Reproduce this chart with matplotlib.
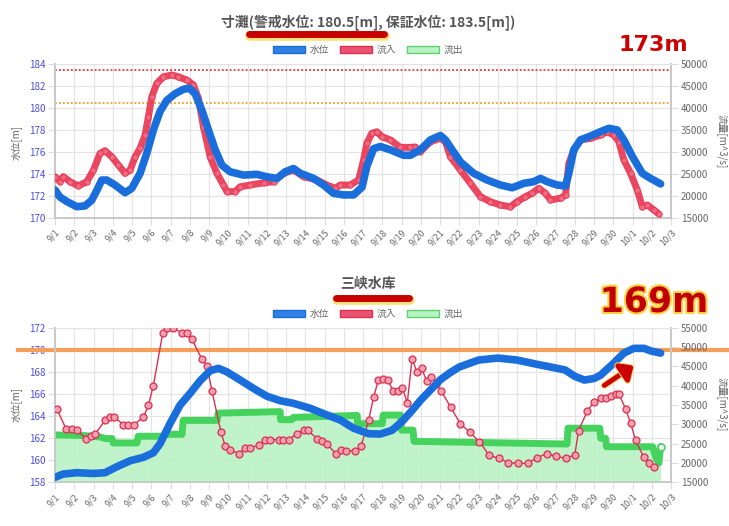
import numpy as np
import matplotlib
matplotlib.use('Agg')
import matplotlib.pyplot as plt
from matplotlib.patches import Patch, FancyArrowPatch
from matplotlib.lines import Line2D
import matplotlib.patheffects as pe

plt.rcParams['font.family'] = ['Noto Sans CJK JP', 'DejaVu Sans']

# ---------------- data ----------------
date_labels = ["9/1", "9/2", "9/3", "9/4", "9/5", "9/6", "9/7", "9/8", "9/9", "9/10",
               "9/11", "9/12", "9/13", "9/14", "9/15", "9/16", "9/17", "9/18", "9/19", "9/20",
               "9/21", "9/22", "9/23", "9/24", "9/25", "9/26", "9/27", "9/28", "9/29", "9/30",
               "10/1", "10/2", "10/3"]

# 寸灘 water level [m] (days after 9/1)
top_level_day = [0, 0.26, 0.61, 1.13, 1.56, 1.9, 2.17, 2.43, 2.69, 3.12, 3.64, 3.99, 4.42, 4.77, 5.11,
                 5.46, 5.81, 6.24, 6.67, 6.98, 7.28, 7.63, 7.97, 8.32, 8.67, 9.1, 9.79, 10.49, 11.0, 11.53,
                 11.96, 12.39, 12.74, 13.43, 13.95, 14.47, 14.99, 15.51, 15.95, 16.2, 16.55, 16.9, 17.42,
                 18.11, 18.46, 18.98, 19.5, 20.02, 20.28, 20.63, 21.06, 21.75, 22.45, 23.14, 23.75, 24.35,
                 24.87, 25.22, 25.57, 26.09, 26.52, 26.69, 26.95, 27.3, 27.82, 28.34, 28.77, 29.21, 29.55,
                 29.99, 30.51, 30.94, 31.46]
top_level = [172.55, 171.9, 171.5, 171.03, 171.1, 171.6, 172.5, 173.45, 173.45, 173.0, 172.3, 172.7, 174.06,
             175.9, 178.0, 179.7, 180.7, 181.3, 181.7, 181.8, 181.3, 179.8, 178.0, 176.2, 174.8, 174.2, 173.9,
             173.97, 173.75, 173.6, 174.2, 174.5, 174.06, 173.6, 173.0, 172.24, 172.1, 172.1, 172.8, 174.7,
             176.3, 176.5, 176.2, 175.7, 175.7, 176.2, 177.1, 177.5, 177.1, 176.2, 175.1, 174.06, 173.45, 173.0,
             172.75, 173.15, 173.3, 173.6, 173.3, 173.0, 172.9, 174.06, 176.2, 177.1, 177.45, 177.85, 178.15,
             178.0, 177.1, 175.6, 174.06, 173.6, 173.1]

# 寸灘 inflow [m^3/s]
top_in_day = [0, 0.26, 0.43, 0.78, 1.21, 1.65, 2.0, 2.34, 2.6, 2.95, 3.29, 3.64, 3.9, 4.16, 4.42, 4.68, 4.85,
              5.03, 5.29, 5.63, 6.07, 6.41, 6.85, 7.19, 7.45, 7.71, 8.06, 8.41, 8.75, 8.93, 9.36, 9.62, 10.14,
              10.84, 11.36, 11.88, 12.39, 12.91, 13.61, 14.12, 14.56, 14.82, 15.34, 15.77, 16.03, 16.2, 16.46,
              16.72, 16.98, 17.42, 17.94, 18.46, 18.72, 18.98, 19.5, 20.02, 20.28, 20.54, 21.06, 21.58, 22.1,
              22.62, 23.14, 23.66, 24.0, 24.44, 24.78, 25.13, 25.48, 25.74, 26.26, 26.52, 26.69, 26.95, 27.3,
              27.82, 28.34, 28.68, 29.03, 29.29, 29.55, 29.9, 30.25, 30.51, 30.77, 31.12, 31.37]
top_in = [24400, 23250, 24400, 23250, 22300, 23250, 25900, 29700, 30300, 28900, 27050, 25150, 25900, 28900,
          30850, 33850, 38000, 42550, 45600, 47100, 47500, 47100, 46350, 45250, 42200, 35750, 28900, 25150,
          22500, 21000, 21000, 22100, 22500, 23000, 23250, 25150, 25900, 24400, 23650, 22500, 21750, 22500,
          22500, 23650, 28200, 32000, 34250, 34600, 33500, 32750, 31050, 31050, 31150, 30050, 32350, 33100,
          32350, 28900, 25900, 22900, 19850, 18700, 17950, 17550, 18700, 19850, 20600, 21750, 20600, 19100,
          19500, 20250, 27400, 30450, 32750, 33100, 33850, 34600, 33850, 32350, 28200, 25150, 21350, 17550,
          17950, 16800, 15900]

warning_level = 180.5
guarantee_level = 183.5

# 三峡水库 water level [m]
b_level_day = [0, 0.43, 1.13, 1.99, 2.6, 3.2, 3.9, 4.59, 5.11, 5.46, 5.98, 6.5, 7.02, 7.54, 8.06, 8.49, 8.93,
               9.62, 10.31, 11.0, 11.7, 12.39, 13.26, 14.12, 14.82, 15.51, 16.29, 16.9, 17.5, 18.0, 18.5, 19.0,
               19.5, 20.0, 20.5, 21.0, 22.0, 23.0, 24.0, 25.0, 26.0, 26.5, 27.0, 27.5, 28.0, 28.34, 29.03,
               29.55, 30.07, 30.6, 30.94, 31.46]
b_level = [158.45, 158.75, 158.87, 158.8, 158.87, 159.4, 159.95, 160.26, 160.68, 161.5, 163.34, 165.0, 166.06,
           167.2, 168.1, 168.32, 168.0, 167.26, 166.5, 165.8, 165.39, 165.15, 164.7, 164.1, 163.64, 162.9,
           162.4, 162.37, 162.7, 163.45, 164.4, 165.45, 166.35, 167.26, 167.9, 168.44, 169.07, 169.25, 169.07,
           168.7, 168.35, 168.17, 167.6, 167.26, 167.4, 167.7, 168.8, 169.7, 170.13, 170.13, 169.9, 169.7]

# 三峡水库 inflow [m^3/s]
b_in_day = [0.09, 0.57, 0.87, 1.13, 1.61, 1.86, 2.08, 2.6, 2.86, 3.08, 3.55, 3.81, 4.11, 4.59, 4.85, 5.11,
            5.6, 5.84, 6.12, 6.59, 6.85, 7.11, 7.63, 7.89, 8.15, 8.62, 8.84, 9.1, 9.58, 9.88, 10.14, 10.62,
            10.92, 11.18, 11.66, 11.87, 12.13, 12.57, 12.91, 13.12, 13.61, 13.87, 14.13, 14.61, 14.86, 15.13,
            15.6, 15.9, 16.29, 16.55, 16.8, 17.05, 17.3, 17.55, 17.8, 18.05, 18.3, 18.55, 18.8, 19.05, 19.3,
            19.55, 19.8, 20.05, 20.55, 21.05, 21.55, 22.05, 22.55, 23.05, 23.55, 24.05, 24.55, 25.05, 25.55,
            26.05, 26.55, 27.0, 27.2, 27.66, 27.98, 28.34, 28.6, 28.86, 29.12, 29.29, 29.64, 29.9, 30.16,
            30.59, 30.85, 31.11]
b_in = [34030, 28890, 28890, 28450, 26320, 26910, 27420, 31020, 31870, 31870, 29920, 29920, 29920, 31870,
        34880, 40020, 53720, 54850, 54850, 53720, 53720, 52020, 46880, 45160, 38730, 28020, 24340, 23310,
        22450, 24000, 24000, 24600, 26060, 26060, 26060, 26060, 26060, 27600, 28630, 28460, 26320, 25700,
        24850, 22280, 23310, 23130, 23130, 24340, 31020, 37000, 41500, 41800, 41500, 38700, 38700, 39500,
        35500, 47000, 43500, 44500, 41200, 42300, 40500, 38700, 34500, 30200, 27900, 25500, 22000, 21200,
        20100, 19900, 19900, 21400, 22400, 21700, 21200, 22100, 28400, 33500, 35700, 36700, 36860, 37450,
        37880, 37880, 34030, 30330, 25880, 21430, 20050, 18870]

# 三峡水库 outflow [m^3/s]
b_out_day = [0, 1.46, 2.34, 2.6, 2.96, 3.02, 4.26, 4.32, 5.62, 5.72, 6.6, 6.66, 8.42, 8.48, 11.7, 11.72, 12.3,
             12.38, 15.7, 15.72, 17.0, 17.05, 17.95, 18.0, 18.6, 18.65, 26.6, 26.65, 28.3, 28.35, 28.6, 28.65,
             31.05, 31.2, 31.37, 31.46]
b_out = [27250, 27100, 26730, 26320, 26320, 25180, 25180, 26910, 26910, 27420, 27420, 31020, 31020, 32900,
         33300, 31200, 31200, 31800, 32300, 30170, 30170, 32400, 32400, 28500, 28500, 25600, 24900, 29000,
         29000, 26400, 26400, 24200, 24200, 21600, 20000, 24200]

alert_level_b = 170

top_title = "寸灘(警戒水位: 180.5[m], 保証水位: 183.5[m])"
bottom_title = "三峡水库"
legend_labels = ["水位", "流入", "流出"]

# ---------------- styling ----------------
W, H = 729, 526
fig = plt.figure(figsize=(W / 100, H / 100), dpi=100)

BLUE = '#1a6edb'
RED = '#e8334f'
GREEN = '#45d35e'
FILL = '#b9f2c3'
GRID = '#e3e3e3'
TXT = '#666666'
LTICK = '#4b4bdc'


def fx(x):
    return x / W


def fy(y):
    return 1 - y / H


def px_axes(l, t, r, b):
    return fig.add_axes([fx(l), fy(b), (r - l) / W, (b - t) / H])


def style(ax, axr, ylo, yhi, rlo, rhi, rstep):
    ax.set_xlim(0, 32)
    ax.set_ylim(ylo, yhi)
    axr.set_ylim(rlo, rhi)
    ax.set_xticks(range(len(date_labels)))
    ax.set_xticklabels(date_labels, rotation=45, ha='right', rotation_mode='anchor',
                       fontsize=6.5, color=TXT)
    ax.set_yticks(np.arange(ylo, yhi + 1, 2))
    ax.tick_params(axis='y', labelsize=7, labelcolor=LTICK, color='#dddddd', length=5, pad=2)
    ax.tick_params(axis='x', color='#dddddd', length=5, pad=2)
    axr.set_yticks(np.arange(rlo, rhi + 1, rstep))
    axr.tick_params(axis='y', labelsize=7, labelcolor=TXT, color='#dddddd', length=5, pad=2)
    ax.grid(True, color=GRID, lw=0.8)
    ax.set_axisbelow(True)
    for a in (ax, axr):
        for s in ('left', 'right', 'bottom'):
            a.spines[s].set_color('#c8c8c8')
            a.spines[s].set_linewidth(1.2)
        a.spines['top'].set_color(GRID)
        a.spines['top'].set_linewidth(0.8)


# ---- top chart ----
ax1 = px_axes(55, 64, 671, 218)
ax1r = ax1.twinx()
style(ax1, ax1r, 170, 184, 15000, 50000, 5000)

ax1.axhline(guarantee_level, color='#e8303a', lw=1.3, ls=(0, (1, 1.2)))
ax1.axhline(warning_level, color='#f0a020', lw=1.3, ls=(0, (1, 1.2)))

ax1r.plot(top_in_day, top_in, color=RED, lw=5, alpha=0.9, solid_joinstyle='round',
          solid_capstyle='round', marker='o', ms=4, mfc='#f07088', mec=RED, mew=0.6, zorder=3)
ax1r.plot(top_level_day, top_level, color=BLUE, lw=5.5, solid_capstyle='round',
          solid_joinstyle='round', transform=ax1.transData, zorder=5)
ax1r.set_ylim(15000, 50000)

# ---- bottom chart ----
ax2 = px_axes(55, 327.7, 671, 482.3)
ax2r = ax2.twinx()
style(ax2, ax2r, 158, 172, 15000, 55000, 5000)

ax2.axhline(alert_level_b, xmin=-0.06, xmax=1.1, color='#f5a05a', lw=3, clip_on=False, zorder=1)

ax2r.fill_between(b_out_day, b_out, 15000, color=FILL, alpha=0.9, lw=0, zorder=1)
ax2r.plot(b_out_day, b_out, color=GREEN, lw=5, solid_capstyle='round', zorder=2)
ax2r.plot(b_out_day[-1:], b_out[-1:], ls='none', marker='o', ms=5, mfc='white', mec=GREEN, mew=1.2, zorder=2)
ax2r.plot(b_in_day, b_in, color='#d8304f', lw=1.0, marker='o', ms=5,
          mfc='#f2a0b0', mec='#d8304f', mew=0.9, zorder=3)
ax2r.plot(b_level_day, b_level, color=BLUE, lw=5.5, solid_capstyle='round',
          solid_joinstyle='round', transform=ax2.transData, zorder=5)
ax2r.set_ylim(15000, 55000)

# ---- axis labels ----
for yc in (143, 405):
    fig.text(fx(16), fy(yc), "水位[m]", rotation=90, ha='center', va='center', fontsize=7, color=TXT)
for yc in (141, 404):
    fig.text(fx(722), fy(yc), "流量[m^3/s]", rotation=270, ha='center', va='center', fontsize=7, color=TXT)

# ---- titles ----
fig.text(fx(368), fy(22), top_title, ha='center', va='center', fontsize=10,
         fontweight='bold', color='#555555')
fig.text(fx(368), fy(284), bottom_title, ha='center', va='center', fontsize=10,
         fontweight='bold', color='#555555')

underline_fx = [pe.Stroke(linewidth=7, foreground='#ffe27a', offset=(1, -1.5)), pe.Normal()]
fig.add_artist(Line2D([fx(249), fx(384)], [fy(34), fy(34)], transform=fig.transFigure,
                      color='#c80000', lw=5, solid_capstyle='round', path_effects=underline_fx))
fig.add_artist(Line2D([fx(336), fx(409)], [fy(298), fy(298)], transform=fig.transFigure,
                      color='#c80000', lw=5, solid_capstyle='round', path_effects=underline_fx))

# ---- legends ----
handles = [Patch(facecolor='#2f80e0', edgecolor='#1a6edb', lw=1),
           Patch(facecolor='#ea5274', edgecolor='#e03050', lw=1),
           Patch(facecolor='#b9f2c3', edgecolor='#5fd070', lw=1)]
for yc in (50, 314):
    fig.legend(handles, legend_labels, loc='center', bbox_to_anchor=(fx(368), fy(yc)), ncol=3,
               frameon=False, fontsize=7, handlelength=3.3, handleheight=0.8,
               columnspacing=1.1, handletextpad=0.5, labelcolor=TXT, borderaxespad=0, borderpad=0)

# ---- annotations ----
fig.text(fx(653), fy(45), "173m", ha='center', va='center', fontsize=16, fontweight='heavy',
         color='#cc0000', family='DejaVu Sans')
fig.text(fx(654), fy(302), "169m", ha='center', va='center', fontsize=25, fontweight='bold',
         color='#c00000', family='DejaVu Sans',
         path_effects=[pe.withStroke(linewidth=3, foreground='#ffd040')])
arrow = FancyArrowPatch((fx(602), fy(387)), (fx(636), fy(364)), transform=fig.transFigure,
                        arrowstyle='-|>,head_length=0.5,head_width=0.45', mutation_scale=14,
                        color='#cc0000', lw=3.5,
                        path_effects=[pe.withStroke(linewidth=5, foreground='#ffd870')])
fig.add_artist(arrow)

fig.savefig('out.png', dpi=100)
